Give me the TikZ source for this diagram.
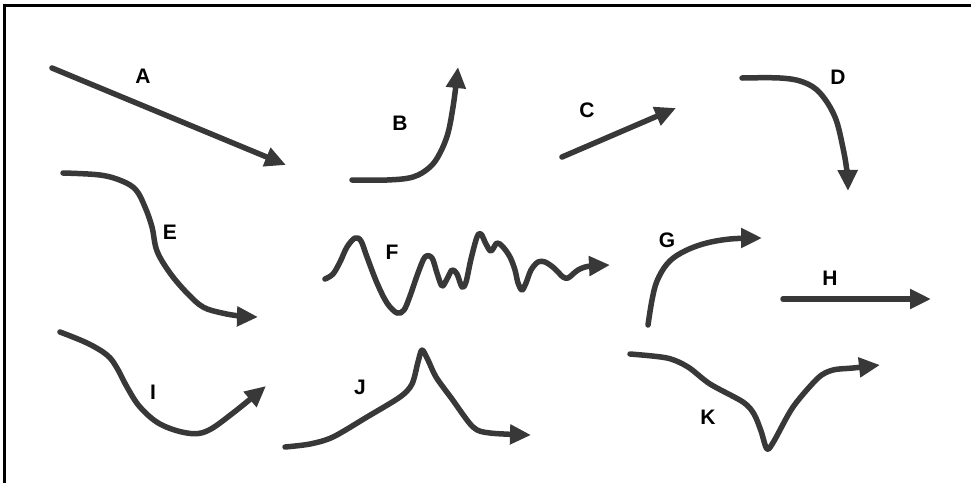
\documentclass[tikz,border=0pt]{standalone}
\usepackage{fontspec}
\setmainfont{Liberation Sans}
\usetikzlibrary{arrows.meta}
\definecolor{ink}{HTML}{383838}
\tikzset{
  curve/.style={draw=ink, line width=5.5pt, line cap=round, line join=round},
  arr/.style={curve, -{Triangle[length=21pt,width=19pt]}},
  lbl/.style={font=\fontsize{21}{23}\selectfont\bfseries, text=black, inner sep=0pt}
}
\begin{document}
\begin{tikzpicture}[x=1pt,y=-1pt]
\useasboundingbox (0,0) rectangle (971,483);
\fill[white] (0,0) rectangle (971,483);
% frame (left and top edges)
\draw[line width=2.2pt, black] (4.5,483) -- (4.5,5.5) -- (971,5.5);

% A
\draw[arr] (52,68) -- (286,165);
\node[lbl] (lA) at (143,76) {A};
% B
\draw[arr] plot[smooth, tension=0.6] coordinates {(352,180) (387,180) (413,177) (430,167) (440,153) (448,133) (453,107) (456,85) (458,67)};
\node[lbl] (lB) at (400,123) {B};
% C
\draw[arr] (562,157) -- (676,108);
\node[lbl] (lC) at (587,110) {C};
% D
\draw[arr] plot[smooth, tension=0.6] coordinates {(742,78) (780,78) (803,82) (820,93) (835,117) (843,148) (847,172) (848,191)};
\node[lbl] (lD) at (838,77) {D};
% E
\draw[arr] plot[smooth, tension=0.6] coordinates {(63,173) (100,175) (122,181) (136,190) (145,207) (152,227) (157,251) (170,273) (187,293) (203,307) (222,313) (240,316) (258,317)};
\node[lbl] (lE) at (170,232) {E};
% F
\draw[arr] plot[smooth, tension=0.55] coordinates {(325,279) (333,274) (340,262) (347,247) (355,238) (361,241) (367,257) (377,283) (387,303) (397,313) (404,310) (410,296) (418,273) (425,257) (432,258) (437,273) (442,286) (447,279) (452,270) (457,274) (462,287) (466,282) (471,259) (477,237) (481,234) (486,244) (491,251) (497,243) (503,247) (510,257) (515,270) (518,283) (522,290) (526,283) (531,270) (538,262) (545,262) (554,268) (563,277) (568,278) (573,274) (578,270) (585,267) (592,266) (610,265)};
\node[lbl] (lF) at (392,252) {F};
% G
\draw[arr] plot[smooth, tension=0.6] coordinates {(648,325) (652,300) (657,281) (667,264) (681,253) (703,244) (730,239) (762,238)};
\node[lbl] (lG) at (667,240) {G};
% H
\draw[arr] (783,299) -- (931,299);
\node[lbl] (lH) at (830,278) {H};
% I
\draw[arr] plot[smooth, tension=0.6] coordinates {(60,332) (87,343) (107,355) (117,368) (127,387) (140,407) (160,424) (187,433) (207,431) (233,413) (266,386)};
\node[lbl] (lI) at (153,392) {I};
% J
\draw[arr] plot[smooth, tension=0.5] coordinates {(285,447) (310,444) (333,437) (367,417) (400,397) (412,384) (418,362) (422,350) (428,360) (436,377) (452,399) (473,427) (490,433) (531,435)};
\node[lbl] (lJ) at (360,387) {J};
% K
\draw[arr] plot[smooth, tension=0.5] coordinates {(630,354) (667,358) (688,367) (710,384) (743,402) (754,414) (761,431) (767,449) (774,441) (793,407) (818,378) (833,370) (853,368) (880,365)};
\node[lbl] (lK) at (708,417) {K};
\end{tikzpicture}
\end{document}
